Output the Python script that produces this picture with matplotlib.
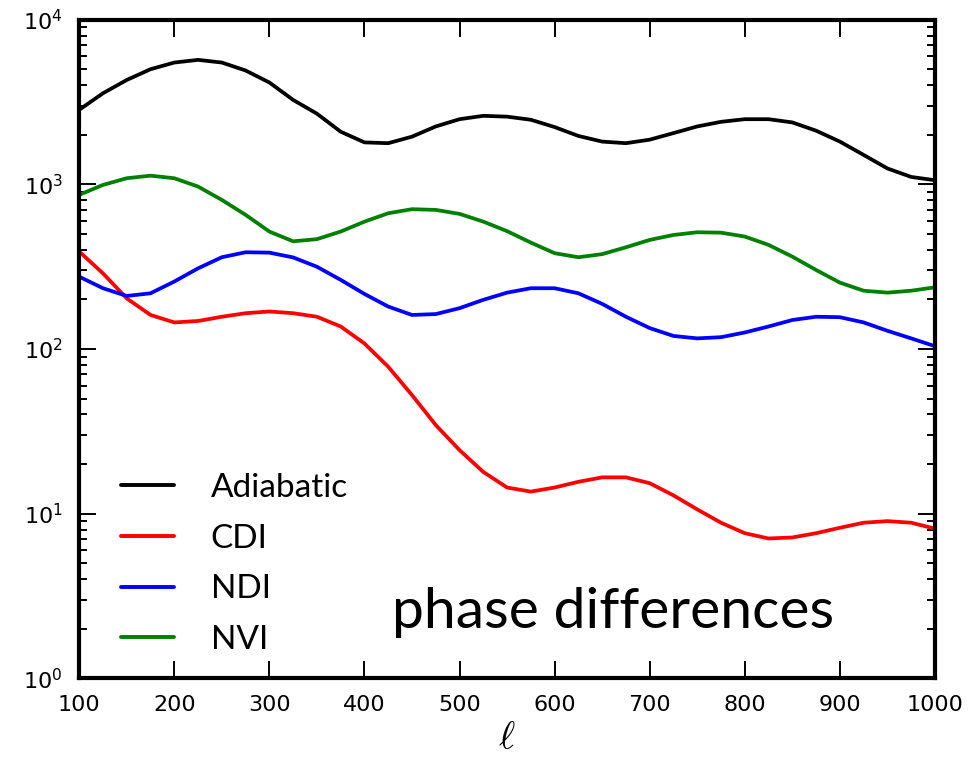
import matplotlib
matplotlib.use("Agg")
import matplotlib.pyplot as plt
from matplotlib.ticker import FixedLocator, LogLocator, NullFormatter

plt.rcParams["mathtext.fontset"] = "dejavusans"

# multipole values, every 25
ell = [100, 125, 150, 175, 200, 225, 250, 275, 300, 325,
       350, 375, 400, 425, 450, 475, 500, 525, 550, 575,
       600, 625, 650, 675, 700, 725, 750, 775, 800, 825,
       850, 875, 900, 925, 950, 975, 1000]

adiabatic = [2840, 3580, 4310, 5010, 5500, 5710, 5500, 4920, 4160, 3260,
             2690, 2090, 1800, 1780, 1950, 2250, 2490, 2610, 2580, 2470,
             2230, 1970, 1820, 1780, 1870, 2050, 2250, 2400, 2490, 2490,
             2380, 2120, 1820, 1510, 1250, 1110, 1060]

cdi = [391, 288, 203, 161, 145, 148, 157, 165, 169, 165,
       157, 137, 108, 78, 52.5, 34.5, 24.3, 17.9, 14.4, 13.6,
       14.4, 15.6, 16.6, 16.6, 15.3, 12.9, 10.6, 8.8, 7.6, 7.06,
       7.16, 7.6, 8.2, 8.8, 9.0, 8.8, 8.1]

ndi = [275, 234, 210, 218, 257, 309, 361, 387, 385, 360,
       316, 263, 216, 181, 161, 163, 177, 199, 220, 234,
       234, 218, 188, 157, 134, 120, 116, 118, 126, 137,
       150, 157, 156, 145, 129, 116, 104]

nvi = [864, 993, 1090, 1130, 1090, 970, 805, 653, 517, 451,
       465, 517, 594, 668, 707, 700, 662, 594, 520, 443,
       382, 361, 377, 415, 460, 493, 512, 509, 482, 429,
       364, 302, 253, 226, 220, 226, 237]

series = [("Adiabatic", adiabatic, "black"),
          ("CDI", cdi, "red"),
          ("NDI", ndi, "blue"),
          ("NVI", nvi, "green")]

x_ticks = [100, 200, 300, 400, 500, 600, 700, 800, 900, 1000]

fig = plt.figure(figsize=(9.78, 7.62), dpi=100)
ax = fig.add_axes([0.081, 0.110, 0.875, 0.864])

for name, values, color in series:
    ax.plot(ell, values, color=color, lw=2.7, label=name,
            solid_joinstyle="round", solid_capstyle="round")

ax.set_yscale("log")
ax.set_xlim(100, 1000)
ax.set_ylim(1, 1e4)

ax.xaxis.set_major_locator(FixedLocator(x_ticks))
ax.yaxis.set_major_locator(LogLocator(base=10, numticks=10))
ax.yaxis.set_minor_locator(LogLocator(base=10, subs=range(2, 10), numticks=20))
ax.yaxis.set_minor_formatter(NullFormatter())

ax.tick_params(which="both", direction="in", top=True, right=True, labelsize=16)
ax.tick_params(which="major", length=12, width=1.4, pad=12)
ax.tick_params(which="minor", length=6, width=1.4)

for sp in ax.spines.values():
    sp.set_linewidth(3)

ax.set_xlabel(r"$\ell$", fontsize=28, math_fontfamily="cm", labelpad=2)

leg = ax.legend(loc="lower left", frameon=False, prop={"family": "Lato", "size": 24},
                handlelength=1.6, handletextpad=1.1, labelspacing=0.62,
                borderaxespad=0.3, bbox_to_anchor=(0.021, 0.0))
for line in leg.get_lines():
    line.set_linewidth(2.8)

ax.text(0.365, 0.076, "phase differences", transform=ax.transAxes,
        fontsize=41, family="Lato", ha="left", va="baseline")

fig.savefig("out.png", dpi=100)
